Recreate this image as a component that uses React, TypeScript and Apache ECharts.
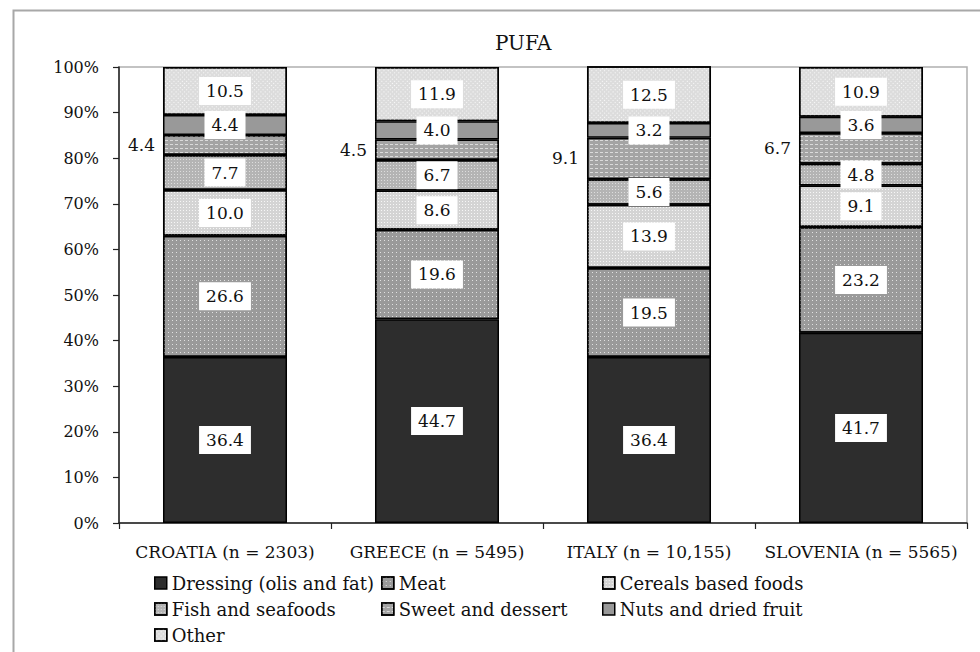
import React, { useEffect, useRef } from "react";
import * as echarts from "echarts";

const categories = ["CROATIA (n = 2303)", "GREECE (n = 5495)", "ITALY (n = 10,155)", "SLOVENIA (n = 5565)"];
const seriesNames = [
  "Dressing (olis and fat)",
  "Meat",
  "Cereals based foods",
  "Fish and seafoods",
  "Sweet and dessert",
  "Nuts and dried fruit",
  "Other",
];
const dressing = [36.4, 44.7, 36.4, 41.7];
const meat = [26.6, 19.6, 19.5, 23.2];
const cereals = [10.0, 8.6, 13.9, 9.1];
const fish = [7.7, 6.7, 5.6, 4.8];
const sweet = [4.4, 4.5, 9.1, 6.7];
const nuts = [4.4, 4.0, 3.2, 3.6];
const other = [10.5, 11.9, 12.5, 10.9];
const yTicks = [0, 10, 20, 30, 40, 50, 60, 70, 80, 90, 100];

const FONT = "DejaVu Serif";

export default function App() {
  const ref = useRef<HTMLDivElement>(null);
  useEffect(() => {
    if (!ref.current) return;
    const chart = echarts.init(ref.current, null, { renderer: "svg" });
    const values = [dressing, meat, cereals, fish, sweet, nuts, other];
    const styles: any[] = [
      { color: "#2d2d2d" },
      {
        color: "#9a9a9a",
        decal: { symbol: "rect", symbolSize: 1, dashArrayX: [1, 3], dashArrayY: [1, 3], color: "rgba(255,255,255,0.7)" },
      },
      {
        color: "#d4d4d4",
        decal: { symbol: "rect", symbolSize: 1, dashArrayX: [1, 2], dashArrayY: [1, 2], color: "rgba(255,255,255,0.8)" },
      },
      {
        color: "#b4b4b4",
        decal: { symbol: "rect", symbolSize: 1, dashArrayX: [1, 2], dashArrayY: [1, 2], color: "rgba(255,255,255,0.55)" },
      },
      {
        color: "#a4a4a4",
        decal: { symbol: "rect", symbolSize: 1, dashArrayX: [3, 2], dashArrayY: [1, 3], color: "rgba(255,255,255,0.6)" },
      },
      { color: "#999999" },
      {
        color: "#dcdcdc",
        decal: { symbol: "rect", symbolSize: 1, dashArrayX: [1, 2], dashArrayY: [1, 2], rotation: Math.PI / 4, color: "rgba(255,255,255,0.85)" },
      },
    ];
    const series = seriesNames.map((name, i) => {
      const isSweet = i === 4;
      return {
        name,
        type: "bar",
        stack: "total",
        barWidth: "58.5%",
        data: values[i],
        itemStyle: { ...styles[i], borderColor: "#000", borderWidth: 1.5 },
        label: isSweet
          ? {
              show: true,
              position: "left",
              distance: 8,
              formatter: (p: any) => p.value.toFixed(1),
              fontFamily: FONT,
              fontSize: 17,
              color: "#111",
            }
          : {
              show: true,
              position: "inside",
              formatter: (p: any) => p.value.toFixed(1),
              fontFamily: FONT,
              fontSize: 17,
              color: "#111",
              backgroundColor: "#fff",
              padding: [6, 7, 5, 7],
            },
        emphasis: { disabled: true },
      };
    });
    const legendCommon = {
      orient: "vertical",
      itemWidth: 12,
      itemHeight: 12,
      itemGap: 6,
      icon: "rect",
      selectedMode: false,
      padding: 0,
      height: 80,
      textStyle: { fontFamily: FONT, fontSize: 18, color: "#111", lineHeight: 20 },
      itemStyle: { borderColor: "#000", borderWidth: 1.5 },
      top: 573,
    };
    const legendItem = (i: number) => ({ name: seriesNames[i], itemStyle: { borderColor: "#000", borderWidth: 1.5 } });
    chart.setOption({
      animation: false,
      backgroundColor: "#fff",
      title: {
        text: "PUFA",
        left: 490,
        top: 28,
        textStyle: { fontFamily: FONT, fontSize: 20, fontWeight: "normal", color: "#111" },
      },
      graphic: [
        {
          type: "rect",
          shape: { x: 13.5, y: 10.5, width: 1000, height: 700 },
          style: { fill: "none", stroke: "#a8a8a8", lineWidth: 2 },
          silent: true,
          z: -10,
        },
      ],
      legend: [
        { ...legendCommon, left: 154, data: [legendItem(0), legendItem(3), legendItem(6)] },
        { ...legendCommon, left: 381, data: [legendItem(1), legendItem(4)] },
        { ...legendCommon, left: 602, data: [legendItem(2), legendItem(5)] },
      ],
      grid: {
        left: 119,
        right: 13,
        top: 67,
        bottom: 129,
        show: true,
        borderColor: "#b0b0b0",
        borderWidth: 1.5,
        backgroundColor: "transparent",
      },
      xAxis: {
        type: "category",
        data: categories,
        axisLine: { lineStyle: { color: "#222", width: 1.5 } },
        axisTick: { show: true, length: 6, lineStyle: { color: "#222", width: 1.2 } },
        axisLabel: { interval: 0, fontFamily: FONT, fontSize: 17, color: "#111", margin: 20 },
      },
      yAxis: {
        type: "value",
        min: 0,
        max: 100,
        interval: 10,
        axisLine: { show: true, lineStyle: { color: "#222", width: 1.5 } },
        axisTick: { show: true, length: 6, lineStyle: { color: "#222", width: 1.2 } },
        splitLine: { show: false },
        axisLabel: {
          fontFamily: FONT,
          fontSize: 16,
          color: "#111",
          margin: 20,
          formatter: (v: number) => (yTicks.includes(v) ? v + "%" : ""),
        },
      },
      series,
    });
    return () => chart.dispose();
  }, []);
  return (
    <div
      ref={ref}
      style={{ position: "absolute", left: 0, top: 0, width: 980, height: 652 }}
    />
  );
}
